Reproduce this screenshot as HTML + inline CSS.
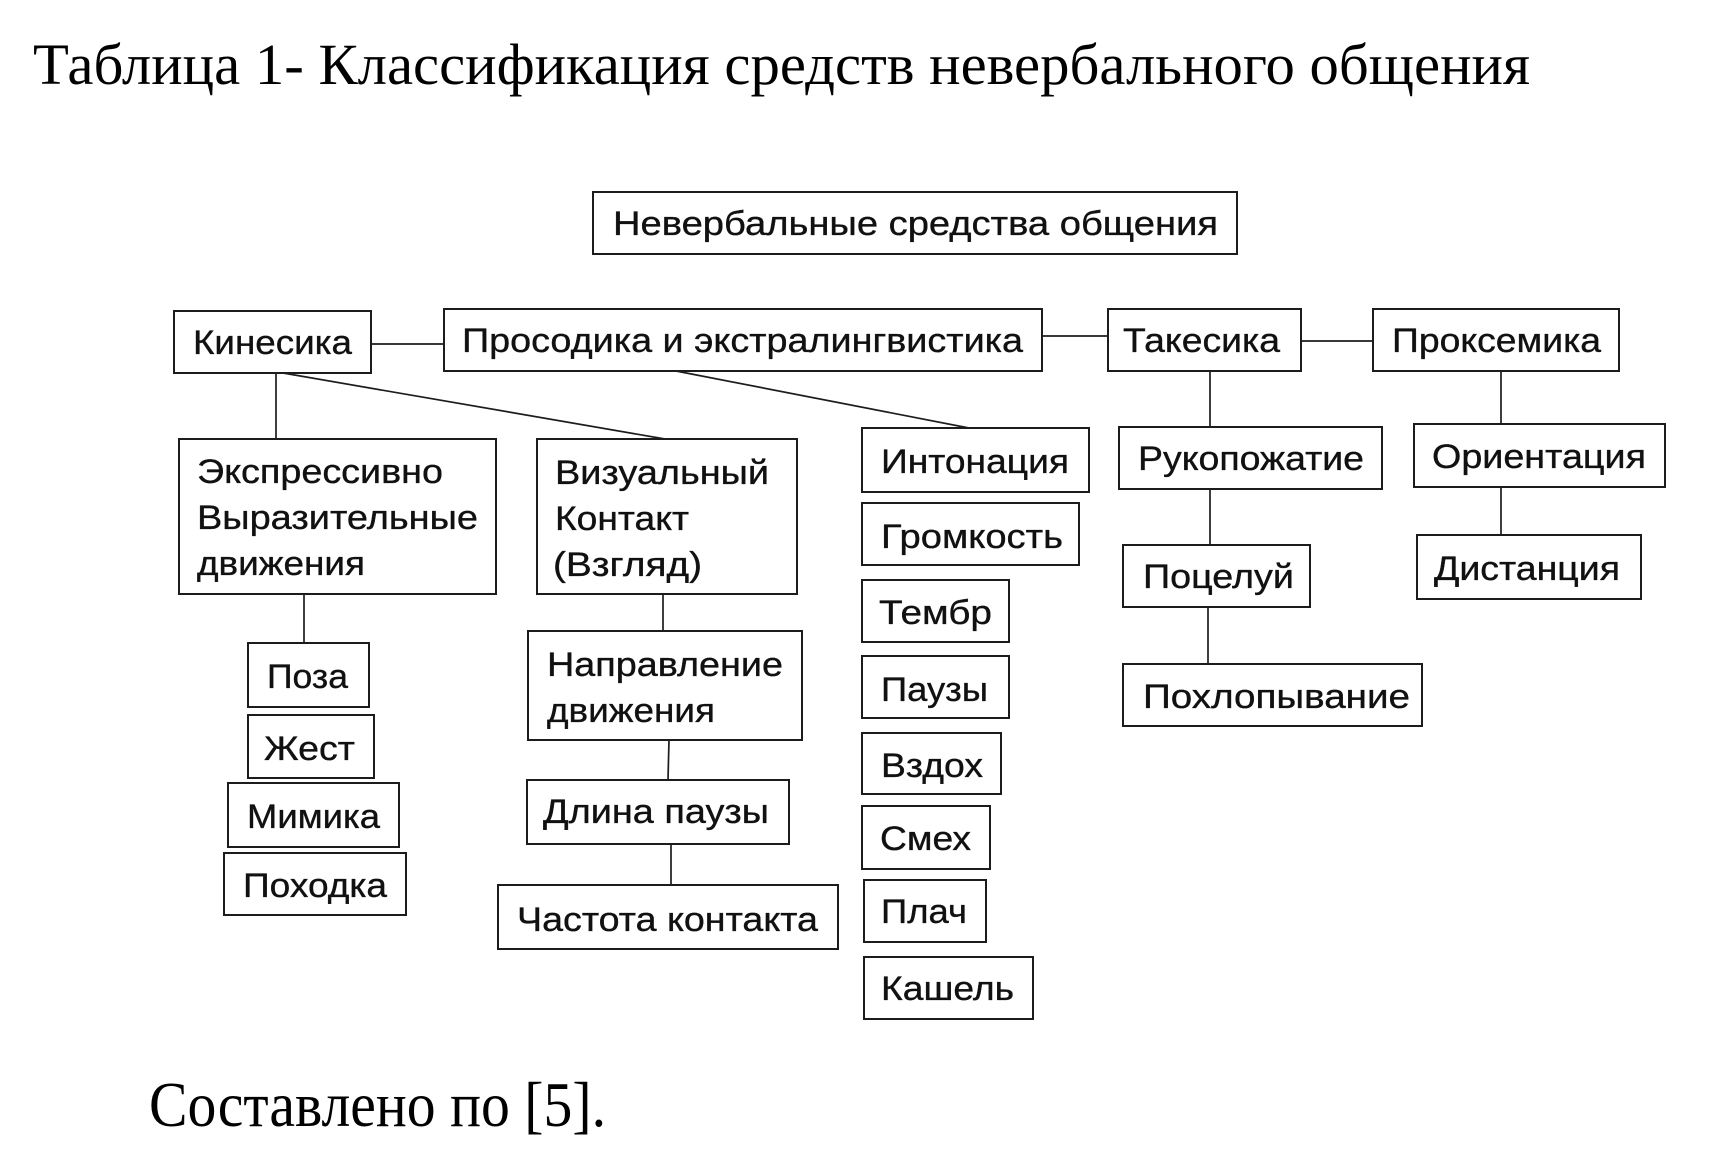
<!DOCTYPE html>
<html lang="ru">
<head>
<meta charset="utf-8">
<style>
  html, body { margin: 0; padding: 0; background: #fff; }
  body { width: 1725px; height: 1167px; overflow: hidden; }
  svg { display: block; }
  .s { font-family: "Liberation Sans", Arial, "DejaVu Sans", sans-serif; font-size: 34px; fill: #111; stroke: #111; stroke-width: 0.35; }
  .t { font-family: "Liberation Serif", "Times New Roman", serif; fill: #000; }
  .b { fill: #fff; stroke: #1c1c1c; stroke-width: 2; }
  .l { stroke: #1c1c1c; stroke-width: 1.7; fill: none; }
</style>
</head>
<body>
<svg width="1725" height="1167" viewBox="0 0 1725 1167" xmlns="http://www.w3.org/2000/svg">
  <rect width="1725" height="1167" fill="#fff"/>

  <!-- Title -->
  <text class="t" x="33" y="84" font-size="58" textLength="1497" lengthAdjust="spacingAndGlyphs">Таблица 1- Классификация средств невербального общения</text>

  <!-- Connectors -->
  <line class="l" x1="371" y1="344" x2="444" y2="344"/>
  <line class="l" x1="1042" y1="336" x2="1108" y2="336"/>
  <line class="l" x1="1301" y1="341" x2="1373" y2="341"/>

  <line class="l" x1="276" y1="373" x2="276" y2="439"/>
  <line class="l" x1="283" y1="373" x2="665" y2="439"/>
  <line class="l" x1="676" y1="371" x2="969" y2="428"/>

  <line class="l" x1="1210" y1="371" x2="1210" y2="427"/>
  <line class="l" x1="1210" y1="489" x2="1210" y2="545"/>
  <line class="l" x1="1208" y1="607" x2="1208" y2="664"/>

  <line class="l" x1="1501" y1="371" x2="1501" y2="424"/>
  <line class="l" x1="1501" y1="487" x2="1501" y2="535"/>

  <line class="l" x1="304" y1="594" x2="304" y2="643"/>
  <line class="l" x1="663" y1="594" x2="663" y2="631"/>
  <line class="l" x1="669" y1="740" x2="668" y2="780"/>
  <line class="l" x1="671" y1="844" x2="671" y2="885"/>

  <!-- Top box -->
  <rect class="b" x="593" y="192" width="644" height="62"/>
  <text class="s" x="613" y="235" textLength="605" lengthAdjust="spacingAndGlyphs">Невербальные средства общения</text>

  <!-- Row 2 -->
  <rect class="b" x="174" y="311" width="197" height="62"/>
  <text class="s" x="193" y="354" textLength="159" lengthAdjust="spacingAndGlyphs">Кинесика</text>

  <rect class="b" x="444" y="309" width="598" height="62"/>
  <text class="s" x="462" y="352" textLength="561" lengthAdjust="spacingAndGlyphs">Просодика и экстралингвистика</text>

  <rect class="b" x="1108" y="309" width="193" height="62"/>
  <text class="s" x="1123" y="352" textLength="157" lengthAdjust="spacingAndGlyphs">Такесика</text>

  <rect class="b" x="1373" y="309" width="246" height="62"/>
  <text class="s" x="1392" y="352" textLength="209" lengthAdjust="spacingAndGlyphs">Проксемика</text>

  <!-- Kinesika branch -->
  <rect class="b" x="179" y="439" width="317" height="155"/>
  <text class="s" x="197" y="483" textLength="246" lengthAdjust="spacingAndGlyphs">Экспрессивно</text>
  <text class="s" x="197" y="529" textLength="281" lengthAdjust="spacingAndGlyphs">Выразительные</text>
  <text class="s" x="197" y="575" textLength="168" lengthAdjust="spacingAndGlyphs">движения</text>

  <rect class="b" x="537" y="439" width="260" height="155"/>
  <text class="s" x="555" y="484" textLength="214" lengthAdjust="spacingAndGlyphs">Визуальный</text>
  <text class="s" x="555" y="530" textLength="134" lengthAdjust="spacingAndGlyphs">Контакт</text>
  <text class="s" x="553" y="576" textLength="149" lengthAdjust="spacingAndGlyphs">(Взгляд)</text>

  <rect class="b" x="248" y="643" width="121" height="64"/>
  <text class="s" x="267" y="688" textLength="81" lengthAdjust="spacingAndGlyphs">Поза</text>

  <rect class="b" x="248" y="715" width="126" height="63"/>
  <text class="s" x="264" y="760" textLength="91" lengthAdjust="spacingAndGlyphs">Жест</text>

  <rect class="b" x="228" y="783" width="171" height="64"/>
  <text class="s" x="247" y="828" textLength="133" lengthAdjust="spacingAndGlyphs">Мимика</text>

  <rect class="b" x="224" y="853" width="182" height="62"/>
  <text class="s" x="243" y="897" textLength="144" lengthAdjust="spacingAndGlyphs">Походка</text>

  <rect class="b" x="528" y="631" width="274" height="109"/>
  <text class="s" x="547" y="676" textLength="236" lengthAdjust="spacingAndGlyphs">Направление</text>
  <text class="s" x="547" y="722" textLength="168" lengthAdjust="spacingAndGlyphs">движения</text>

  <rect class="b" x="527" y="780" width="262" height="64"/>
  <text class="s" x="543" y="823" textLength="226" lengthAdjust="spacingAndGlyphs">Длина паузы</text>

  <rect class="b" x="498" y="885" width="340" height="64"/>
  <text class="s" x="517" y="931" textLength="301" lengthAdjust="spacingAndGlyphs">Частота контакта</text>

  <!-- Prosody column -->
  <rect class="b" x="862" y="428" width="227" height="64"/>
  <text class="s" x="881" y="473" textLength="188" lengthAdjust="spacingAndGlyphs">Интонация</text>

  <rect class="b" x="862" y="503" width="217" height="62"/>
  <text class="s" x="881" y="548" textLength="182" lengthAdjust="spacingAndGlyphs">Громкость</text>

  <rect class="b" x="862" y="580" width="147" height="62"/>
  <text class="s" x="879" y="624" textLength="113" lengthAdjust="spacingAndGlyphs">Тембр</text>

  <rect class="b" x="862" y="656" width="147" height="62"/>
  <text class="s" x="881" y="701" textLength="107" lengthAdjust="spacingAndGlyphs">Паузы</text>

  <rect class="b" x="862" y="733" width="139" height="61"/>
  <text class="s" x="881" y="777" textLength="102" lengthAdjust="spacingAndGlyphs">Вздох</text>

  <rect class="b" x="862" y="806" width="128" height="63"/>
  <text class="s" x="880" y="850" textLength="91" lengthAdjust="spacingAndGlyphs">Смех</text>

  <rect class="b" x="864" y="880" width="122" height="62"/>
  <text class="s" x="881" y="923" textLength="86" lengthAdjust="spacingAndGlyphs">Плач</text>

  <rect class="b" x="864" y="957" width="169" height="62"/>
  <text class="s" x="881" y="1000" textLength="133" lengthAdjust="spacingAndGlyphs">Кашель</text>

  <!-- Takesika column -->
  <rect class="b" x="1119" y="427" width="263" height="62"/>
  <text class="s" x="1138" y="470" textLength="226" lengthAdjust="spacingAndGlyphs">Рукопожатие</text>

  <rect class="b" x="1123" y="545" width="187" height="62"/>
  <text class="s" x="1143" y="588" textLength="151" lengthAdjust="spacingAndGlyphs">Поцелуй</text>

  <rect class="b" x="1123" y="664" width="299" height="62"/>
  <text class="s" x="1143" y="708" textLength="267" lengthAdjust="spacingAndGlyphs">Похлопывание</text>

  <!-- Proxemics column -->
  <rect class="b" x="1414" y="424" width="251" height="63"/>
  <text class="s" x="1432" y="468" textLength="214" lengthAdjust="spacingAndGlyphs">Ориентация</text>

  <rect class="b" x="1417" y="535" width="224" height="64"/>
  <text class="s" x="1434" y="580" textLength="186" lengthAdjust="spacingAndGlyphs">Дистанция</text>

  <!-- Footer -->
  <text class="t" x="149" y="1126" font-size="64" textLength="457" lengthAdjust="spacingAndGlyphs">Составлено по [5].</text>
</svg>
</body>
</html>
